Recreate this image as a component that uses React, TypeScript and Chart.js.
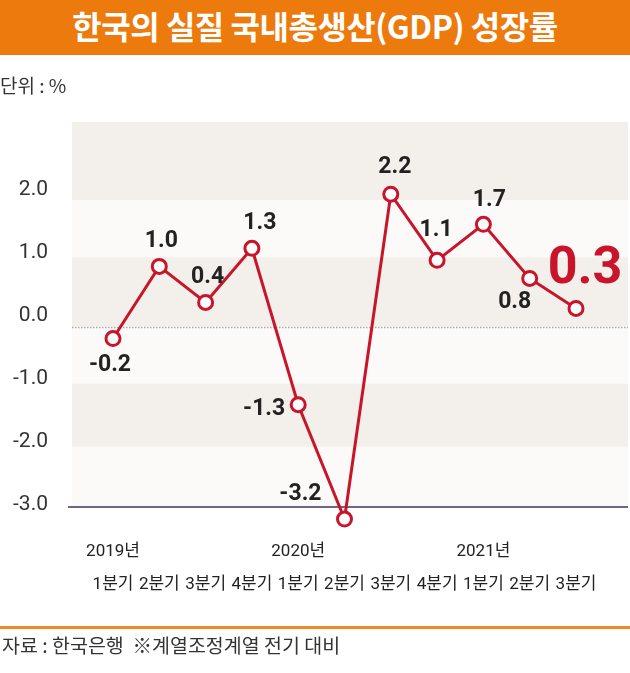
import React, { useEffect, useRef } from 'react';
import { Chart, registerables } from 'chart.js';

Chart.register(...registerables);

// ---- data ----
const quarters = ['1분기', '2분기', '3분기', '4분기', '1분기', '2분기', '3분기', '4분기', '1분기', '2분기', '3분기'];
const yearLabels = ['2019년', '', '', '', '2020년', '', '', '', '2021년', '', ''];
const growth = [-0.2, 1.0, 0.4, 1.3, -1.3, -3.2, 2.2, 1.1, 1.7, 0.8, 0.3];
const yTickValues = [2, 1, 0, -1, -2, -3];

// ---- styling ----
const RED = '#C9152B';
const ORANGE = '#EC7A0C';
const BAND_DARK = '#F3EFEA';
const BAND_LIGHT = '#FBFAF8';
const bandEdges = [3.4, 2.1, 1.15, 0, -0.95, -2.0, -3.0];
const FONT_NUM = "Roboto, 'Noto Sans CJK KR', sans-serif";
const FONT_KR = "'Noto Sans CJK KR', sans-serif";

type LabelPos = { dx: number; dy: number; align?: CanvasTextAlign; big?: boolean };
const labelPos: LabelPos[] = [
  { dx: -3, dy: 27 },
  { dx: 2, dy: -25 },
  { dx: 2, dy: -25 },
  { dx: 8, dy: -25 },
  { dx: -13, dy: 5, align: 'right' },
  { dx: -23, dy: -25, align: 'right' },
  { dx: 4, dy: -27 },
  { dx: -1, dy: -30 },
  { dx: 6, dy: -24 },
  { dx: -15, dy: 24 },
  { dx: 9, dy: -38, big: true },
];

const decorPlugin = {
  id: 'decor',
  beforeDatasetsDraw(chart: any) {
    const { ctx } = chart;
    const y = chart.scales.y;
    const left = 72;
    const right = 628;
    ctx.save();
    for (let i = 0; i < bandEdges.length - 1; i++) {
      const y0 = y.getPixelForValue(bandEdges[i]);
      const y1 = y.getPixelForValue(bandEdges[i + 1]);
      ctx.fillStyle = i % 2 === 0 ? BAND_DARK : BAND_LIGHT;
      ctx.fillRect(left, y0, right - left, y1 - y0);
    }
    // zero line (dotted)
    const yz = Math.round(y.getPixelForValue(0)) + 0.5;
    ctx.strokeStyle = '#A9A6A6';
    ctx.lineWidth = 1.5;
    ctx.setLineDash([1.5, 1.5]);
    ctx.beginPath();
    ctx.moveTo(left, yz);
    ctx.lineTo(right, yz);
    ctx.stroke();
    ctx.setLineDash([]);
    // base line
    const yb = y.getPixelForValue(-3.0);
    ctx.strokeStyle = '#6E6680';
    ctx.lineWidth = 2;
    ctx.beginPath();
    ctx.moveTo(68, yb);
    ctx.lineTo(right, yb);
    ctx.stroke();
    ctx.restore();
  },
  afterDatasetsDraw(chart: any) {
    const { ctx } = chart;
    const meta = chart.getDatasetMeta(0);
    ctx.save();
    ctx.textBaseline = 'middle';
    meta.data.forEach((pt: any, i: number) => {
      const p = labelPos[i];
      const v = growth[i];
      ctx.textAlign = p.align || 'center';
      if (p.big) {
        ctx.font = `bold 52px ${FONT_NUM}`;
        ctx.fillStyle = RED;
      } else {
        ctx.font = `bold 23px ${FONT_NUM}`;
        ctx.fillStyle = '#222222';
      }
      ctx.fillText(v.toFixed(1), pt.x + p.dx, pt.y + p.dy);
    });
    ctx.restore();
  },
};

export default function App() {
  const ref = useRef<HTMLCanvasElement>(null);

  useEffect(() => {
    if (!ref.current) return;
    const chart = new Chart(ref.current, {
      type: 'line',
      data: {
        labels: quarters,
        datasets: [
          {
            data: growth,
            yAxisID: 'y',
            borderColor: RED,
            borderWidth: 3,
            pointRadius: 7,
            pointHoverRadius: 12,
            pointBorderWidth: 3,
            pointBackgroundColor: '#FFFFFF',
            pointBorderColor: RED,
            tension: 0,
            clip: false as any,
          },
        ],
      },
      options: {
        responsive: false,
        animation: false,
        events: [],
        layout: { padding: { left: 0, right: 54, top: 122, bottom: 66 } },
        plugins: { legend: { display: false }, tooltip: { enabled: false }, title: { display: false } },
        scales: {
          x: {
            type: 'category',
            offset: false,
            grid: { display: false, drawTicks: false },
            border: { display: false },
            ticks: {
              autoSkip: false,
              maxRotation: 0,
              padding: 28,
              color: '#222222',
              font: { family: FONT_NUM, size: 17, lineHeight: '33px' as any },
              callback: (_v: any, i: number) => [yearLabels[i], quarters[i]],
            },
            afterFit: (s: any) => {
              s.height = 100;
            },
          },
          y: {
            type: 'linear',
            display: false,
            min: -3.0,
            max: 3.4,
          },
          yl: {
            type: 'linear',
            position: 'left',
            min: -3.03,
            max: 3.08,
            grid: { display: false, drawTicks: false },
            border: { display: false },
            afterBuildTicks: (s: any) => {
              s.ticks = yTickValues.map((v) => ({ value: v }));
            },
            ticks: {
              padding: 65,
              color: '#333333',
              font: { family: FONT_NUM, size: 21 },
              callback: (v: any) => Number(v).toFixed(1),
            },
            afterFit: (s: any) => {
              s.width = 113;
            },
          },
        },
      },
      plugins: [decorPlugin],
    });
    return () => chart.destroy();
  }, []);

  return (
    <div style={{ position: 'absolute', left: 0, top: 0, width: 630, height: 673, background: '#FFFFFF', overflow: 'hidden' }}>
      <canvas ref={ref} width={630} height={673} style={{ position: 'absolute', left: 0, top: 0, display: 'block' }} />
      <div
        style={{
          position: 'absolute', left: 0, top: 0, width: 630, height: 55, background: ORANGE,
          color: '#FFFFFF', fontFamily: FONT_KR, fontWeight: 700, fontSize: 32, letterSpacing: -0.5,
          lineHeight: '50px', textAlign: 'center', whiteSpace: 'nowrap',
        }}
      >
        한국의 실질 국내총생산(GDP) 성장률
      </div>
      <div
        style={{
          position: 'absolute', left: 0, top: 72, fontFamily: FONT_KR, fontSize: 19, color: '#333333',
          lineHeight: '26px', whiteSpace: 'pre',
        }}
      >
        단위 : %
      </div>
      <div style={{ position: 'absolute', left: 0, top: 626, width: 630, height: 3, background: '#EE8A24' }} />
      <div
        style={{
          position: 'absolute', left: 2, top: 632, fontFamily: FONT_KR, fontSize: 19.5, color: '#333333',
          lineHeight: '26px', whiteSpace: 'pre',
        }}
      >
        {'자료 : 한국은행  ※계열조정계열 전기 대비'}
      </div>
    </div>
  );
}
